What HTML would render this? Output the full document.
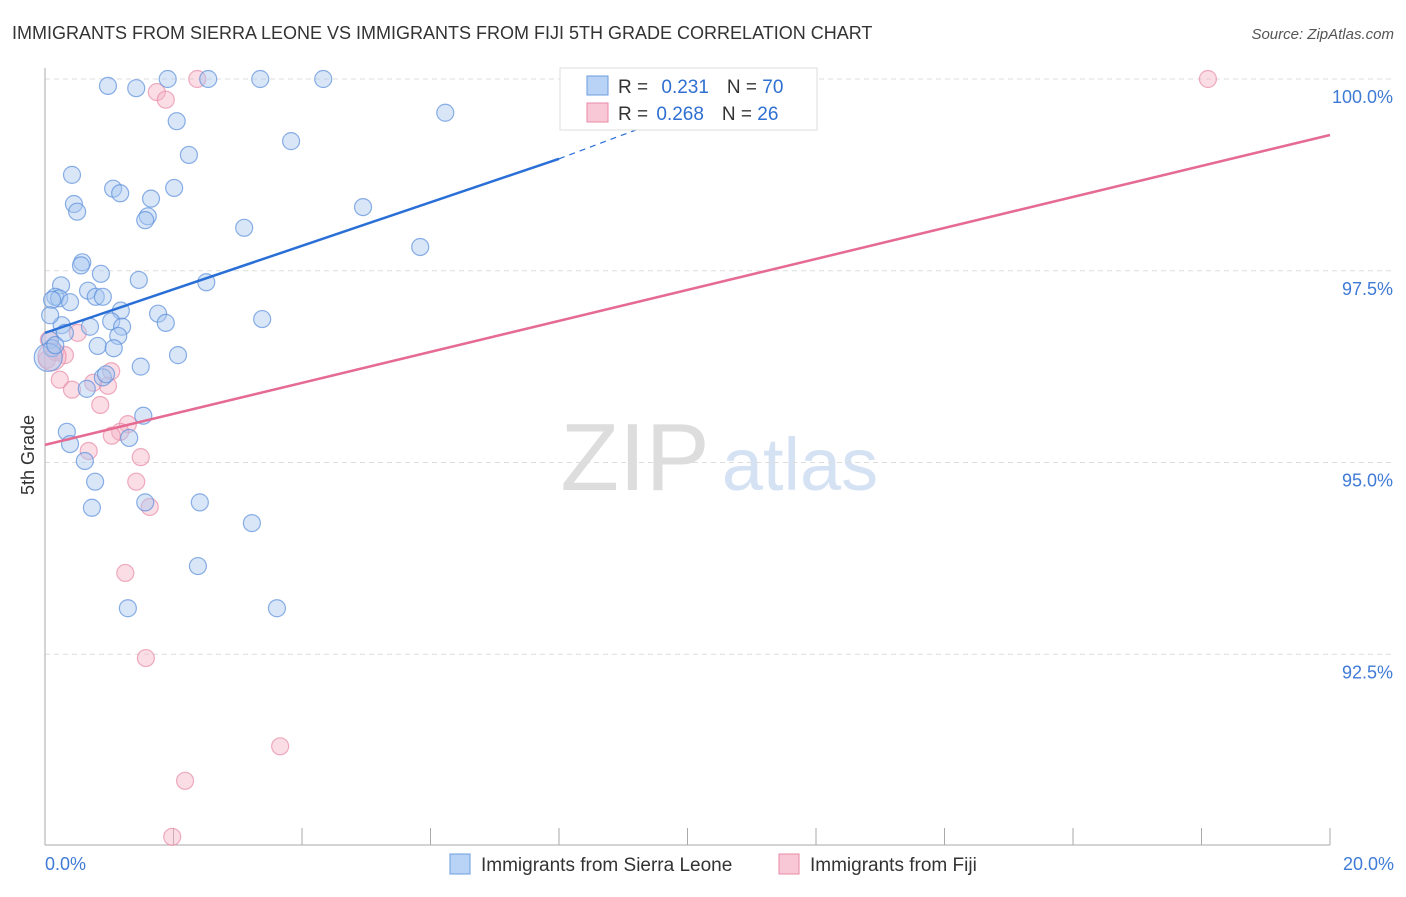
<!DOCTYPE html>
<html><head><meta charset="utf-8"><style>
body{margin:0;background:#fff;font-family:"Liberation Sans",sans-serif;}
svg text{font-family:"Liberation Sans",sans-serif;}
</style></head><body>
<svg id="chart" width="1406" height="892" viewBox="0 0 1406 892" xmlns="http://www.w3.org/2000/svg">
<text x="12" y="39" font-size="18" fill="#333">IMMIGRANTS FROM SIERRA LEONE VS IMMIGRANTS FROM FIJI 5TH GRADE CORRELATION CHART</text>
<text x="1394" y="39" font-size="15" fill="#555" font-style="italic" text-anchor="end">Source: ZipAtlas.com</text>
<text x="34" y="455" font-size="18" fill="#333" transform="rotate(-90 34 455)" text-anchor="middle">5th Grade</text>
<g>
<text x="635" y="490" font-size="96" fill="#ddd" font-family="Liberation Serif" text-anchor="middle">ZIP</text>
<text x="800" y="490" font-size="74" fill="#d4e2f4" text-anchor="middle">atlas</text>
</g>
<g id="grid"></g><g id="axes"></g><g id="marks"></g><g id="trends"></g>
<g>
<rect x="560" y="68" width="257" height="62" fill="#fff" stroke="#ddd"/>
<rect x="587" y="76" width="21" height="19" fill="#b8d3f5" stroke="#6b9ee0"/>
<text x="618" y="93" font-size="19" fill="#333">R = <tspan fill="#2f6fd1" dx="8">0.231</tspan><tspan dx="18">N = </tspan><tspan fill="#2f6fd1">70</tspan></text>
<rect x="587" y="103" width="21" height="19" fill="#f8c8d6" stroke="#e88aa6"/>
<text x="618" y="120" font-size="19" fill="#333">R = <tspan fill="#2f6fd1" dx="3">0.268</tspan><tspan dx="18">N = </tspan><tspan fill="#2f6fd1">26</tspan></text>
</g>
<g>
<rect x="450" y="854" width="20" height="20" fill="#b8d3f5" stroke="#6b9ee0"/>
<text x="481" y="871" font-size="19" fill="#333">Immigrants from Sierra Leone</text>
<rect x="779" y="854" width="20" height="20" fill="#f8c8d6" stroke="#e88aa6"/>
<text x="810" y="871" font-size="19" fill="#333">Immigrants from Fiji</text>
</g>
</svg>
<script>
const yTicks=[100,97.5,95,92.5];
const yTickLabels=["100.0%","97.5%","95.0%","92.5%"];
const xTickLabels=["0.0%","20.0%"];
const blueX=[0.98,1.42,1.91,2.54,3.35,4.33,6.23,2.05,3.83,2.24,0.42,1.06,1.17,2.01,1.65,0.45,0.50,1.60,1.56,3.10,4.95,5.84,0.58,0.56,0.87,1.46,2.51,0.25,0.67,0.16,0.22,0.11,0.79,0.90,0.39,1.18,1.76,1.03,1.88,3.38,1.20,0.26,0.70,0.08,0.31,1.14,0.82,1.07,2.07,0.08,0.11,1.49,0.90,0.95,0.65,1.53,0.34,0.39,1.31,0.62,0.78,1.56,2.41,0.73,3.22,2.38,1.29,3.61,0.05,0.16];
const blueY=[99.91,99.88,100,100,100,100,99.56,99.45,99.19,99.01,98.75,98.57,98.51,98.58,98.44,98.37,98.27,98.21,98.16,98.06,98.33,97.81,97.61,97.57,97.46,97.38,97.35,97.31,97.24,97.16,97.14,97.12,97.16,97.16,97.09,96.98,96.94,96.84,96.82,96.87,96.77,96.79,96.77,96.92,96.69,96.65,96.52,96.49,96.40,96.60,96.49,96.25,96.11,96.15,95.96,95.61,95.40,95.24,95.32,95.02,94.75,94.48,94.48,94.41,94.21,93.65,93.10,93.10,96.37,96.53];
const pinkX=[18.10,2.37,1.74,1.88,0.06,0.16,0.31,0.51,0.03,0.23,0.42,1.03,0.98,0.75,0.86,1.29,1.17,1.04,0.68,1.49,1.42,1.63,1.25,1.57,3.66,2.18,1.98,0.11];
const pinkY=[100,100,99.83,99.73,96.60,96.44,96.40,96.69,96.34,96.08,95.95,96.19,96.00,96.04,95.75,95.50,95.40,95.35,95.15,95.07,94.75,94.42,93.56,92.45,91.30,90.85,90.12,96.38];
const blueTrend=[96.69,98.96,99.6];
const blueTrendX=[0,8,10.04];
const pinkTrend=[95.23,99.27];
const pinkTrendX=[0,20];
const NS="http://www.w3.org/2000/svg";
const sx=v=>45+v*64.25;
const sy=v=>79+(100-v)*76.7;
function mk(tag,attrs,parent){const e=document.createElementNS(NS,tag);for(const k in attrs)e.setAttribute(k,attrs[k]);parent.appendChild(e);return e;}
const grid=document.getElementById('grid'),axes=document.getElementById('axes'),marks=document.getElementById('marks'),trends=document.getElementById('trends');
yTicks.forEach((t,i)=>{
 const l=mk('line',{x1:45,x2:1394,y1:sy(t),y2:sy(t),stroke:'#ddd','stroke-dasharray':'5,4'},grid);
 
 
 const tx=mk('text',{x:1393,y:sy(t)+24,'font-size':18,fill:'#3f7bd6','text-anchor':'end'},grid);
 tx.textContent=yTickLabels[i];
 
 
});
const ya=mk('line',{x1:45,x2:45,y1:68,y2:845,stroke:'#aaa'},axes);


const xa=mk('line',{x1:45,x2:1330,y1:845,y2:845,stroke:'#aaa'},axes);


for(let i=0;i<=10;i++){
 const t=mk('line',{x1:sx(i*2),x2:sx(i*2),y1:828,y2:845,stroke:'#aaa'},axes);
 
 
}
[[0,'start',45],[20,'end',1394]].forEach((d,i)=>{
 const t=mk('text',{x:d[2],y:870,'font-size':18,fill:'#3f7bd6','text-anchor':d[1]},axes);
 t.textContent=xTickLabels[i];
 
 
});
function dots(X,Y,fill,stroke,name,bigIdx){
 X.forEach((x,i)=>{
  const c=mk('circle',{cx:sx(x),cy:sy(Y[i]),r:i===bigIdx?14:8.5,fill:fill,'fill-opacity':0.45,stroke:stroke,'stroke-opacity':0.7,'stroke-width':1.2},marks);
  
  
 });
}
dots(pinkX,pinkY,'#f4b3c6','#e88aa6','fiji-point',27);
dots(blueX,blueY,'#a9c8f0','#5b8fdb','sierra-leone-point',68);
const bl=mk('line',{x1:sx(blueTrendX[0]),y1:sy(blueTrend[0]),x2:sx(blueTrendX[1]),y2:sy(blueTrend[1]),stroke:'#2a6fd6','stroke-width':2.5},trends);


const bd=mk('line',{x1:sx(blueTrendX[1]),y1:sy(blueTrend[1]),x2:sx(blueTrendX[2]),y2:sy(blueTrend[2]),stroke:'#2a6fd6','stroke-width':1.2,'stroke-dasharray':'6,5'},trends);


const pl=mk('line',{x1:sx(pinkTrendX[0]),y1:sy(pinkTrend[0]),x2:sx(pinkTrendX[1]),y2:sy(pinkTrend[1]),stroke:'#e56b93','stroke-width':2.5},trends);


</script>
</body></html>
